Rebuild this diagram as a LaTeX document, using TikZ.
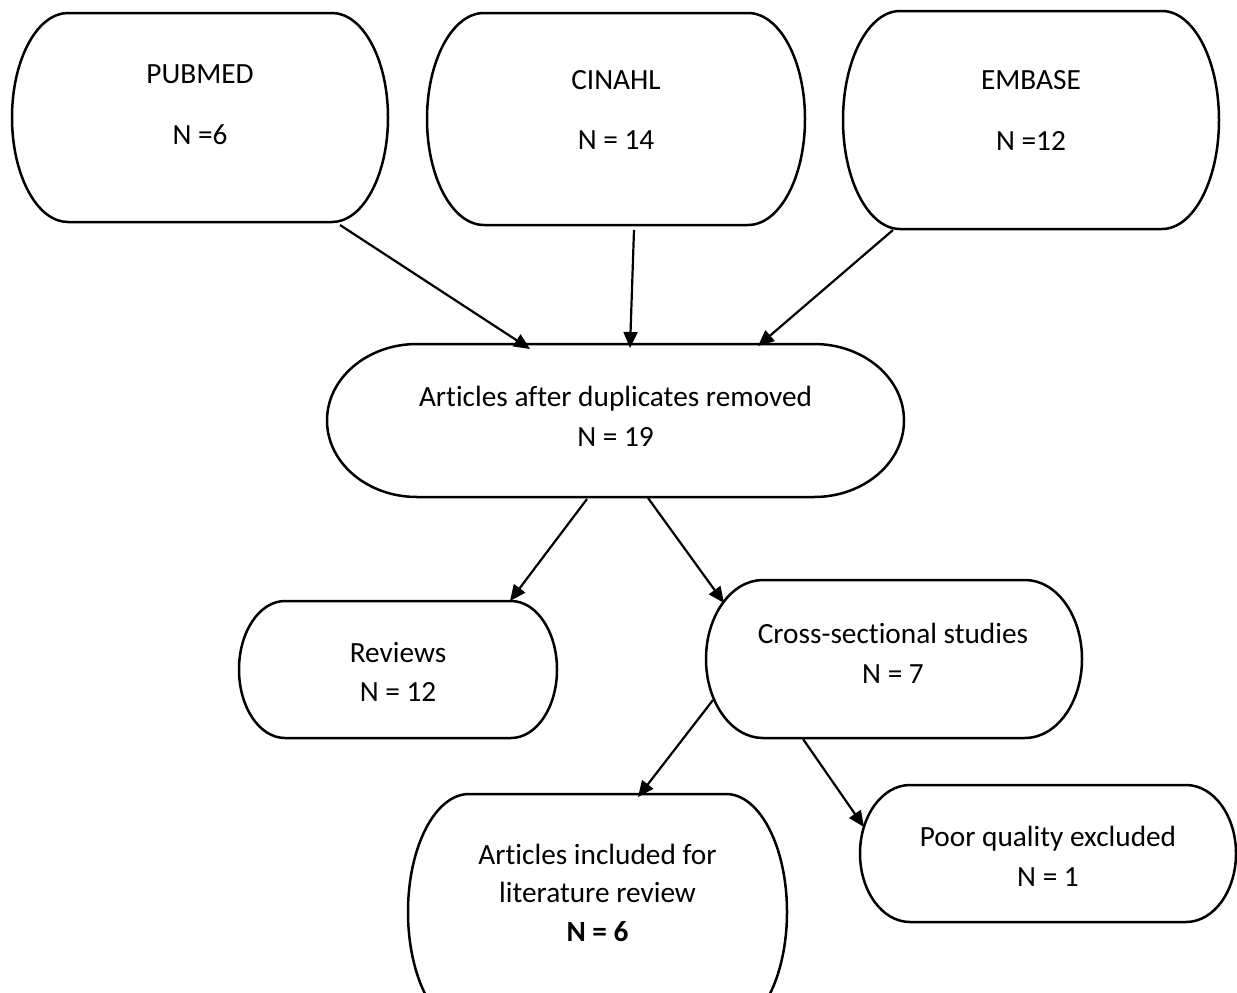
\documentclass[tikz,border=0pt]{standalone}
\usepackage{fontspec}
\setmainfont{Carlito}[Ligatures=NoCommon]
\usetikzlibrary{arrows.meta}
\newcommand\termbox[6]{%
  \pgfmathsetmacro\tbw{#4-#2}%
  \pgfmathsetmacro\tbh{#5-#3}%
  \pgfmathsetmacro\tbr{(#5-#3)/2}%
  \node[tbnode, minimum width=\tbw pt, minimum height=\tbh pt] (#1) at ({(#2+#4)/2},{(#3+#5)/2}) {};
  \draw[tbline] ({#2+#6},#3) -- ({#4-#6},#3)
    arc[start angle=90, end angle=-90, x radius=#6 pt, y radius=\tbr pt]
    -- ({#2+#6},#5)
    arc[start angle=270, end angle=90, x radius=#6 pt, y radius=\tbr pt] -- cycle;
}
\tikzset{
  tbnode/.style={inner sep=0pt, draw=none},
  tbline/.style={line width=2.5pt, line join=round},
  txt/.style={align=center, inner sep=0pt, font=\fontsize{29.3}{40}\selectfont},
  conn/.style={line width=2.2pt, -{Triangle[length=16pt,width=14pt]}}
}
\begin{document}
\begin{tikzpicture}[x=1pt,y=-1pt]
\useasboundingbox (0,0) rectangle (1237,993);
\clip (0,0) rectangle (1237,993);
\fill[white] (0,0) rectangle (1237,993);

\termbox{pubmed}{12}{13}{388}{222}{56}
\termbox{cinahl}{427}{13}{805}{225}{57}
\termbox{embase}{843}{11}{1219}{229}{57}
\termbox{articles}{327}{344}{904}{497}{90}
\termbox{reviews}{239}{601}{557}{738}{46}
\termbox{cross}{706}{580}{1082}{738}{57}
\termbox{included}{408}{794}{787}{1030}{61}
\termbox{poor}{860}{785}{1236}{922}{50}

\node[txt] (pubmedt) at (200,104.5) {PUBMED\\[21pt]N =6};
\node[txt] (cinahlt) at (616,110) {CINAHL\\[20pt]N = 14};
\node[txt] (embaset) at (1031,110.5) {EMBASE\\[21pt]N =12};
\node[txt] (articlest) at (615.5,416.4) {Articles after duplicates removed\\N = 19};
\node[txt] (reviewst) at (398,671.5) {Reviews\\[-1pt]N = 12};
\node[txt] (crosst) at (893,653.4) {Cross-sectional studies\\N = 7};
\node[txt] (includedt) at (597.5,892.9) {Articles included for\\[-1.5pt]literature review\\[-1.5pt]\textbf{N = 6}};
\node[txt] (poort) at (1048,856.4) {Poor quality excluded\\N = 1};

\draw[conn] ([shift={(140,107.5)}]pubmed.center) -- ([shift={(-85.5,-71.5)}]articles.center);
\draw[conn] ([shift={(18,111)}]cinahl.center) -- ([shift={(14.5,-72.5)}]articles.center);
\draw[conn] ([shift={(-138,110)}]embase.center) -- ([shift={(142.5,-74.5)}]articles.center);
\draw[conn] ([shift={(-28.5,78.5)}]articles.center) -- ([shift={(112,-68.5)}]reviews.center);
\draw[conn] ([shift={(32.5,77.5)}]articles.center) -- ([shift={(-170,-56)}]cross.center);
\draw[conn] ([shift={(-181,41)}]cross.center) -- ([shift={(40.5,-115)}]included.center);
\draw[conn] ([shift={(-91,80)}]cross.center) -- ([shift={(-184,-26.5)}]poor.center);
\end{tikzpicture}
\end{document}
